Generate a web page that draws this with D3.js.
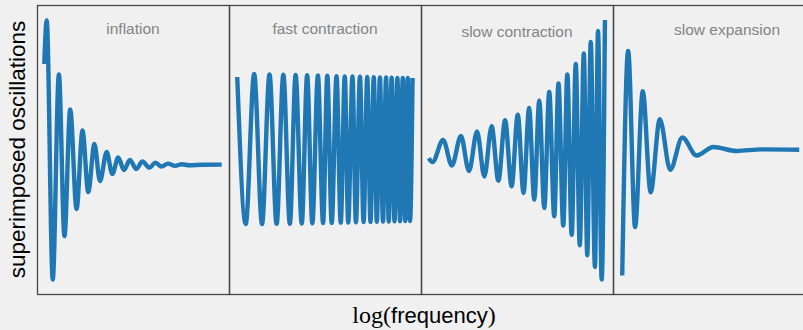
<!DOCTYPE html>
<html>
<head>
<meta charset="utf-8">
<script src="https://cdn.jsdelivr.net/npm/d3@7"></script>
<style>
  body { margin: 0; background: #f0f0f0; }
  svg { display: block; }
</style>
</head>
<body>
<div id="chart"></div>
<script>
// panel titles and where they sit (fraction of panel width / baseline)
const panelTitles = ['inflation', 'fast contraction', 'slow contraction', 'slow expansion'];
const titlePos = [0.5, 0.5, 0.5, 0.594];
const titleBase = [33.5, 34, 36.5, 34.5];

// [log frequency (0-100 across panel), oscillation amplitude (-100..100)]
// only the turning points are listed, the curve goes smoothly through them
const inflation = [
  [3.8, 59.2], [5.05, 89.3], [8.2, -90.0], [11.4, 51.9], [14.3, -59.9],
  [17.3, 27.7], [20.6, -41.2], [23.7, 13.1], [26.7, -29.4], [29.9, 3.8],
  [32.8, -21.8], [36.3, -1.7], [39.2, -17.0], [42.3, -5.5], [45.3, -14.2],
  [48.4, -7.3], [51.7, -13.5], [54.9, -8.3], [58.6, -12.5], [61.7, -9.1],
  [64.8, -11.8], [68.2, -9.8], [71.9, -11.3], [75.4, -10.2], [79.2, -10.9],
  [86.0, -10.6], [96.2, -10.5]
];

const fastContraction = [
  [4.3, 50.2], [8.7, -51.6], [13.1, 52.2], [17.2, -51.6], [21.1, 52.0],
  [24.8, -51.5], [28.3, 51.8], [31.7, -51.4], [34.7, 51.6], [37.9, -51.2],
  [40.7, 51.4], [43.4, -51.0], [46.3, 51.2], [49.0, -50.9], [51.2, 51.0],
  [53.5, -50.8], [56.0, 50.8], [58.2, -50.6], [60.3, 50.6], [62.1, -50.5],
  [64.3, 50.5], [66.1, -50.4], [68.2, 50.3], [70.1, -50.2], [72.0, 50.2],
  [73.7, -50.1], [75.4, 50.0], [77.0, -50.0], [78.6, 49.9], [80.2, -49.9],
  [81.8, 49.8], [83.2, -49.8], [84.7, 49.7], [86.2, -49.7], [87.7, 49.6],
  [89.1, -49.6], [90.5, 49.5], [91.8, -49.5], [93.1, 49.5], [94.3, -49.5],
  [95.6, 49.5]
];

const slowContraction = [
  [4.0, -6.1], [6.0, -8.7], [11.5, 6.6], [16.1, -11.1], [20.8, 9.3],
  [25.0, -14.9], [29.2, 12.5], [33.0, -18.7], [36.8, 16.1], [40.3, -21.6],
  [43.8, 20.2], [47.2, -25.5], [50.4, 24.1], [53.4, -30.1], [56.3, 28.7],
  [59.0, -34.7], [61.6, 33.9], [64.2, -40.5], [66.8, 39.8], [69.4, -46.2],
  [71.6, 45.7], [74.1, -52.7], [76.2, 52.0], [78.5, -59.0], [80.6, 59.2],
  [82.7, -66.3], [84.8, 66.4], [86.6, -73.2], [88.4, 74.4], [90.6, -81.3],
  [92.2, 82.0], [94.1, -90.0], [95.8, 89.6]
];

const slowExpansion = [
  [4.8, -87.2], [7.9, 68.2], [11.5, -53.6], [15.5, 40.3], [19.6, -29.6],
  [24.4, 20.9], [29.8, -14.0], [36.1, 8.3], [43.5, -4.2], [52.2, 1.7],
  [64.4, -1.0], [77.4, 0.1], [97.0, -0.2]
];

const panelData = [inflation, fastContraction, slowContraction, slowExpansion];

const width = 803, height = 330;
const margin = { top: 5, left: 37, bottom: 36 };
const panelWidth = 192;
const panelHeight = height - margin.top - margin.bottom; // 289
const lineColor = '#1f77b4';

const svg = d3.select('#chart')
  .append('svg')
  .attr('width', width)
  .attr('height', height);

svg.append('rect')
  .attr('width', width)
  .attr('height', height)
  .attr('fill', '#f0f0f0');

// where each panel starts
const panelX = d3.scaleLinear()
  .domain([0, panelData.length])
  .range([margin.left, margin.left + panelWidth * panelData.length]);

const xScale = d3.scaleLinear().domain([0, 100]).range([0, panelWidth]);
const yScale = d3.scaleLinear().domain([-100, 100]).range([panelHeight, 0]);

const line = d3.line()
  .x(d => xScale(d[0]))
  .y(d => yScale(d[1]))
  .curve(d3.curveMonotoneX);

panelData.forEach((data, i) => {
  const g = svg.append('g')
    .attr('transform', `translate(${panelX(i)},${margin.top})`);

  g.append('path')
    .datum(data)
    .attr('d', line)
    .attr('fill', 'none')
    .attr('stroke', lineColor)
    .attr('stroke-width', 4.4)
    .attr('stroke-linejoin', 'round');

  g.append('text')
    .attr('x', panelWidth * titlePos[i])
    .attr('y', titleBase[i] - margin.top)
    .attr('text-anchor', 'middle')
    .attr('font-family', 'Liberation Sans, Arial, sans-serif')
    .attr('font-size', 15.5)
    .attr('fill', '#848484')
    .text(panelTitles[i]);

  // spines of this panel
  g.append('rect')
    .attr('x', 0.5)
    .attr('y', 0.5)
    .attr('width', panelWidth)
    .attr('height', panelHeight)
    .attr('fill', 'none')
    .attr('stroke', '#474747')
    .attr('stroke-width', 1.3);
});

// y label
svg.append('text')
  .attr('transform', `translate(25,${margin.top + panelHeight / 2}) rotate(-90)`)
  .attr('text-anchor', 'middle')
  .attr('font-family', 'Liberation Sans, Arial, sans-serif')
  .attr('font-size', 22.5)
  .attr('fill', '#000')
  .text('superimposed oscillations');

// x label: log in serif, frequency in sans
const xLabel = svg.append('text')
  .attr('x', 424)
  .attr('y', 323)
  .attr('text-anchor', 'middle')
  .attr('fill', '#000');

xLabel.append('tspan')
  .attr('font-family', 'Liberation Serif, serif')
  .attr('font-size', 24)
  .text('log(');
xLabel.append('tspan')
  .attr('font-family', 'Liberation Sans, Arial, sans-serif')
  .attr('font-size', 22)
  .text('frequency');
xLabel.append('tspan')
  .attr('font-family', 'Liberation Serif, serif')
  .attr('font-size', 24)
  .text(')');
</script>
</body>
</html>
